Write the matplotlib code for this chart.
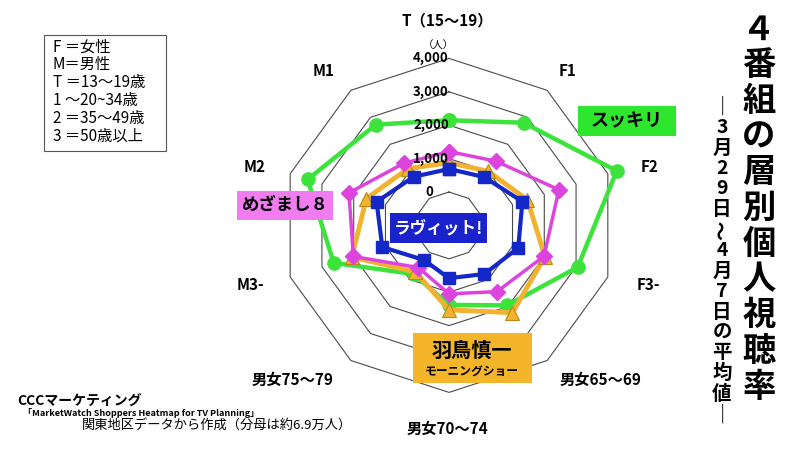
import numpy as np
import matplotlib
matplotlib.use('Agg')
import matplotlib.pyplot as plt
from matplotlib.patches import Rectangle

plt.rcParams['font.family'] = ['Noto Sans CJK JP', 'DejaVu Sans']

# axes clockwise from the top
categories = ['T（15～19）', 'F1', 'F2', 'F3-', '男女65～69', '男女70～74',
              '男女75～79', 'M3-', 'M2', 'M1']
sukkiri = [2150, 2800, 4280, 3050, 1960, 1380, 800, 2630, 3450, 2730]
mezamashi = [1210, 1380, 2460, 1990, 1450, 1050, 560, 2010, 2150, 1300]
hatori = [880, 1000, 1470, 2020, 2230, 1530, 720, 2060, 1600, 1100]
lovit = [690, 790, 1310, 1180, 800, 580, 280, 1100, 1280, 800]
ring_values = [0, 1000, 2000, 3000, 4000]
ring_labels = ['0', '1,000', '2,000', '3,000', '4,000']

legend_lines = ['F ＝女性', 'M＝男性', 'T ＝13～19歳', '1 ～20~34歳', '2 ＝35～49歳', '3 ＝50歳以上']
title = '４番組の層別個人視聴率'
subtitle = '｜3月29日～4月7日の平均値｜'

W, H = 800, 450


def fx(px):
    return px / W


def fy(py):
    return 1 - py / H


fig = plt.figure(figsize=(8, 4.5), dpi=100)
fig.patch.set_facecolor('white')

ax = fig.add_axes([0.3316, 0.0909, 0.4593, 0.8164], projection='polar')
ax.set_theta_offset(np.pi / 2)
ax.set_theta_direction(-1)
ax.set_ylim(-1000, 4500)
ax.set_axis_off()

n = len(categories)
angles = np.linspace(0, 2 * np.pi, n, endpoint=False)
closed = np.append(angles, angles[0])


def close(vals):
    return np.append(vals, vals[0])


# decagon rings
for v, lab in zip(ring_values, ring_labels):
    ax.plot(closed, [v] * (n + 1), color='#4a4a4a', lw=0.8, zorder=1)
    ax.annotate(lab, (0, v), xytext=(-13 if v else -14, 0), textcoords='offset points',
                ha='center', va='center', fontsize=9.5, fontweight='bold', zorder=8)
ax.annotate('（人）', (0, 4000), xytext=(-8, 9), textcoords='offset points',
            ha='center', va='center', fontsize=7.5)

# category labels (pixel positions taken from the original layout)
label_xy = [(447, 20), (568, 71), (650, 167), (648, 285), (601, 380),
            (447, 429), (293, 380), (250, 285), (255, 167), (324, 71)]
for lab, (px, py) in zip(categories, label_xy):
    fig.text(fx(px), fy(py), lab, ha='center', va='center', fontsize=11,
             fontweight='bold')

ax.plot(closed, close(sukkiri), color='#3be33b', lw=3.2, marker='o', ms=9.5,
        zorder=3, clip_on=False)
ax.plot(closed, close(hatori), color='#f2b230', lw=3.5, marker='^', ms=10.5,
        mfc='#f2b230', mec='#b88a10', mew=0.8, zorder=4, clip_on=False)
ax.plot(closed, close(mezamashi), color='#dd44dd', lw=2.5, marker='D', ms=8,
        zorder=5, clip_on=False)
ax.plot(closed, close(lovit), color='#1428c8', lw=3, marker='s', ms=8.5,
        zorder=6, clip_on=False)


def box(x0, y0, x1, y1, color):
    fig.add_artist(Rectangle((fx(x0), fy(y1)), fx(x1) - fx(x0), fy(y0) - fy(y1),
                             transform=fig.transFigure, facecolor=color,
                             edgecolor='none', zorder=10))


# program name boxes
box(578, 106, 676, 136, '#2ee62e')
fig.text(fx(627), fy(121), 'スッキリ', ha='center', va='center', fontsize=13,
         fontweight='bold', zorder=11)
box(237, 191, 333, 220, '#f07cf0')
fig.text(fx(285), fy(205), 'めざまし８', ha='center', va='center', fontsize=12.5,
         fontweight='bold', zorder=11)
box(390, 213, 487, 243, '#1a22cc')
fig.text(fx(438), fy(228), 'ラヴィット!', ha='center', va='center', fontsize=12,
         fontweight='bold', color='white', zorder=11)
box(413, 333, 532, 383, '#f5b52a')
fig.text(fx(472), fy(350), '羽鳥慎一', ha='center', va='center', fontsize=14.5,
         fontweight='bold', zorder=11)
fig.text(fx(472), fy(372), 'モーニングショー', ha='center', va='center', fontsize=8.5,
         fontweight='bold', zorder=11)

# legend box
fig.add_artist(Rectangle((fx(44), fy(151)), fx(166) - fx(44), fy(35) - fy(151),
                         transform=fig.transFigure, facecolor='white',
                         edgecolor='#555555', lw=0.8))
for i, line in enumerate(legend_lines):
    fig.text(fx(53), fy(47 + i * 17.8), line, ha='left', va='center', fontsize=11)

# vertical title
for i, ch in enumerate(title):
    fig.text(fx(759), fy(30 + i * 35.7), ch, ha='center', va='center',
             fontsize=24, fontweight='bold')
for i, ch in enumerate(subtitle):
    fig.text(fx(722), fy(107 + i * 20.5), ch, ha='center', va='center',
             fontsize=14, fontweight='bold', rotation=90 if ch == '～' else 0)

# source
fig.text(fx(17), fy(402), 'CCCマーケティング', ha='left', va='center', fontsize=10,
         fontweight='bold')
fig.text(fx(23), fy(413), '「MarketWatch Shoppers Heatmap for TV Planning」', ha='left',
         va='center', fontsize=6.5, fontweight='bold')
fig.text(fx(82), fy(425), '関東地区データから作成（分母は約6.9万人）', ha='left',
         va='center', fontsize=9.5)

fig.savefig('out.png', dpi=100)
